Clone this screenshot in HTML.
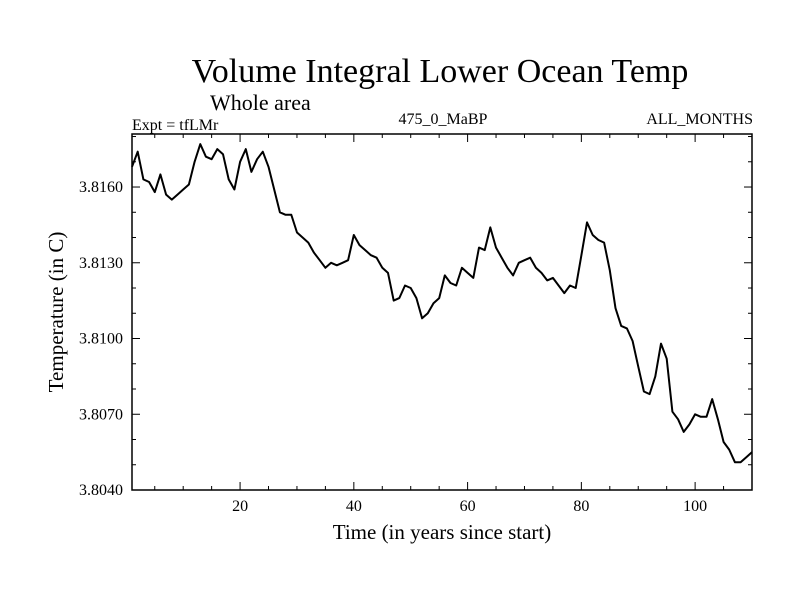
<!DOCTYPE html>
<html><head><meta charset="utf-8"><style>
body{margin:0;background:#fff}
svg text{font-family:"Liberation Serif",serif;fill:#000}
</style></head><body>
<svg width="800" height="600">
<text x="440" y="82" font-size="34" text-anchor="middle">Volume Integral Lower Ocean Temp</text>
<text x="210" y="110" font-size="22">Whole area</text>
<text x="132" y="130" font-size="16">Expt = tfLMr</text>
<text x="443" y="124" font-size="16" text-anchor="middle">475_0_MaBP</text>
<text x="753" y="124" font-size="16" text-anchor="end">ALL_MONTHS</text>
<text x="442" y="539" font-size="21" text-anchor="middle">Time (in years since start)</text>
<text transform="translate(63,312) rotate(-90)" font-size="21" text-anchor="middle">Temperature (in C)</text>
<g id="axes"></g>
<rect x="132" y="134" width="620" height="356" fill="none" stroke="#000" stroke-width="1.5"/>
<path id="line" fill="none" stroke="#000" stroke-width="2" stroke-linejoin="round"/>
</svg>
<script>
const years=[];for(let i=1;i<=110;i++)years.push(i);
const temps=[3.8168,3.8174,3.8163,3.8162,3.8158,3.8165,3.8157,3.8155,3.8157,3.8159,
3.8161,3.8170,3.8177,3.8172,3.8171,3.8175,3.8173,3.8163,3.8159,3.8170,
3.8175,3.8166,3.8171,3.8174,3.8168,3.8159,3.8150,3.8149,3.8149,3.8142,
3.8140,3.8138,3.8134,3.8131,3.8128,3.8130,3.8129,3.8130,3.8131,3.8141,
3.8137,3.8135,3.8133,3.8132,3.8128,3.8126,3.8115,3.8116,3.8121,3.8120,
3.8116,3.8108,3.8110,3.8114,3.8116,3.8125,3.8122,3.8121,3.8128,3.8126,
3.8124,3.8136,3.8135,3.8144,3.8136,3.8132,3.8128,3.8125,3.8130,3.8131,
3.8132,3.8128,3.8126,3.8123,3.8124,3.8121,3.8118,3.8121,3.8120,3.8133,
3.8146,3.8141,3.8139,3.8138,3.8127,3.8112,3.8105,3.8104,3.8099,3.8089,
3.8079,3.8078,3.8085,3.8098,3.8092,3.8071,3.8068,3.8063,3.8066,3.8070,
3.8069,3.8069,3.8076,3.8068,3.8059,3.8056,3.8051,3.8051,3.8053,3.8055];
const xTicks=[20,40,60,80,100];
const yTicks=[3.8040,3.8070,3.8100,3.8130,3.8160];
const yTickLabels=["3.8040","3.8070","3.8100","3.8130","3.8160"];
const X0=132,X1=752,Y0=490,Y1=134,xmin=1,xmax=110,ymin=3.8040,ymax=3.81810;
function sx(v){return X0+(v-xmin)/(xmax-xmin)*(X1-X0);}
function sy(v){return Y0-(v-ymin)/(ymax-ymin)*(Y0-Y1);}
const ns="http://www.w3.org/2000/svg",g=document.getElementById('axes');
function ln(x1,y1,x2,y2,name){const l=document.createElementNS(ns,'line');
l.setAttribute('x1',x1);l.setAttribute('y1',y1);l.setAttribute('x2',x2);l.setAttribute('y2',y2);
l.setAttribute('stroke','#000');l.setAttribute('stroke-width','1');


g.appendChild(l);}
function tx(x,y,s,anchor,name){const t=document.createElementNS(ns,'text');
t.setAttribute('x',x);t.setAttribute('y',y);t.setAttribute('font-size','16');t.setAttribute('text-anchor',anchor);t.textContent=s;


g.appendChild(t);}
for(let v=5;v<=110;v+=5){const x=sx(v),L=(v%20===0)?8:4;ln(x,Y0,x,Y0-L,'x-tick');ln(x,Y1,x,Y1+L,'x-tick-top');}
xTicks.forEach(v=>tx(sx(v),511,String(v),'middle','x-tick-label'));
for(let k=0;k<=14;k++){const v=3.8040+k*0.001;if(v>ymax)break;const y=sy(v),L=(k%3===0)?8:4;ln(X0,y,X0+L,y,'y-tick');ln(X1,y,X1-L,y,'y-tick-right');}
yTicks.forEach((v,i)=>tx(123,sy(v)+5,yTickLabels[i],'end','y-tick-label'));
document.getElementById('line').setAttribute('d',temps.map((v,i)=>(i?'L':'M')+sx(years[i]).toFixed(1)+','+sy(v).toFixed(1)).join(''));
</script>
</body></html>
